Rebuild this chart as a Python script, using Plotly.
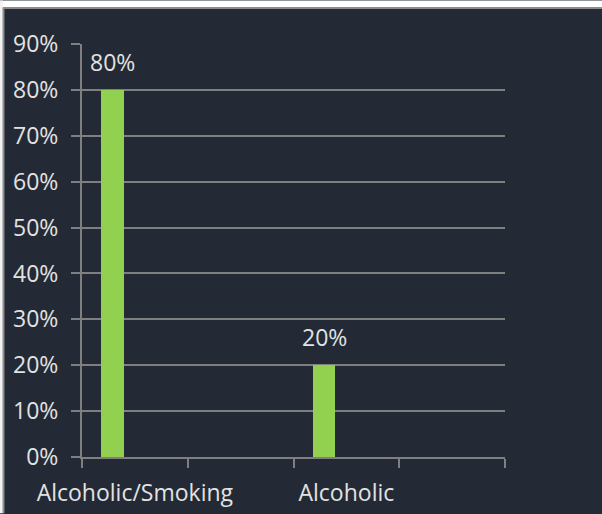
import plotly.graph_objects as go

# Category slots along the x axis (the unlabeled slots stay empty)
categories = ["Alcoholic/Smoking", " ", "Alcoholic", "  "]
shares = [0.80, None, 0.20, None]
y_ticks = [0.0, 0.1, 0.2, 0.3, 0.4, 0.5, 0.6, 0.7, 0.8, 0.9]

BG = "#232a35"
GRID = "#7f7f7f"
TEXT = "#e2e2e2"
GREEN = "#92d050"
FONT = "Open Sans"
FSIZE = 23

# layout geometry (pixels)
W, H = 602, 514
ML, MR, MT, MB = 82, 97, 43.5, 56.5
plot_w = W - ML - MR
plot_h = H - MT - MB

BAR_W = 0.217
BAR_OFF = -0.32

fig = go.Figure()
fig.add_trace(go.Bar(
    x=categories,
    y=shares,
    width=BAR_W,
    offset=BAR_OFF,
    marker=dict(color=GREEN, line=dict(width=0)),
    hoverinfo="skip",
))

# value labels above the bars
bar_center_shift = (BAR_OFF + BAR_W / 2) * plot_w / len(categories)
for cat, val in zip(categories, shares):
    if val is None:
        continue
    fig.add_annotation(
        x=cat, y=val, xref="x", yref="y",
        text=f"{val:.0%}", showarrow=False,
        xanchor="center", yanchor="bottom",
        xshift=bar_center_shift, yshift=10,
        font=dict(family=FONT, size=FSIZE, color=TEXT),
    )

def px_x(p):
    return (p - ML) / plot_w

def px_y(p):
    return (H - MB - p) / plot_h

# frame: white strip at the top, thin border on the left and top
fig.add_shape(type="rect", xref="paper", yref="paper",
              x0=px_x(0), x1=px_x(W), y0=px_y(7), y1=px_y(0),
              fillcolor="white", line=dict(width=0), layer="below")
fig.add_shape(type="rect", xref="paper", yref="paper",
              x0=px_x(0), x1=px_x(3), y0=px_y(H), y1=px_y(0),
              fillcolor="#f2f2f2", line=dict(width=0), layer="below")
fig.add_shape(type="line", xref="paper", yref="paper",
              x0=px_x(3), x1=px_x(W), y0=px_y(7.5), y1=px_y(7.5),
              line=dict(color="#8c8c8c", width=2))
fig.add_shape(type="line", xref="paper", yref="paper",
              x0=px_x(3.5), x1=px_x(3.5), y0=px_y(H), y1=px_y(7),
              line=dict(color="#8c8c8c", width=2))

fig.update_layout(
    width=W, height=H,
    margin=dict(l=ML, r=MR, t=MT, b=MB, pad=0, autoexpand=False),
    paper_bgcolor=BG, plot_bgcolor=BG,
    showlegend=False,
    bargap=0,
    font=dict(family=FONT, size=FSIZE, color=TEXT),
    xaxis=dict(
        type="category",
        categoryorder="array", categoryarray=categories,
        range=[-0.5, len(categories) - 0.5],
        showgrid=False, zeroline=False,
        showline=True, linecolor=GRID, linewidth=2,
        ticks="outside", ticklen=9, tickwidth=2, tickcolor=GRID,
        tickson="boundaries",
        tickangle=0, automargin=False,
        tickfont=dict(family=FONT, size=FSIZE, color=TEXT),
        ticklabelstandoff=14,
        fixedrange=True,
    ),
    yaxis=dict(
        range=[0, 0.9],
        tickvals=y_ticks,
        tickformat=".0%",
        showgrid=True, gridcolor=GRID, gridwidth=2,
        zeroline=False,
        showline=True, linecolor=GRID, linewidth=2,
        ticks="outside", ticklen=9, tickwidth=2, tickcolor=GRID,
        automargin=False,
        tickfont=dict(family=FONT, size=FSIZE, color=TEXT),
        ticklabelstandoff=8,
        fixedrange=True,
    ),
)

fig.write_html("out.html", config={"displayModeBar": False})
